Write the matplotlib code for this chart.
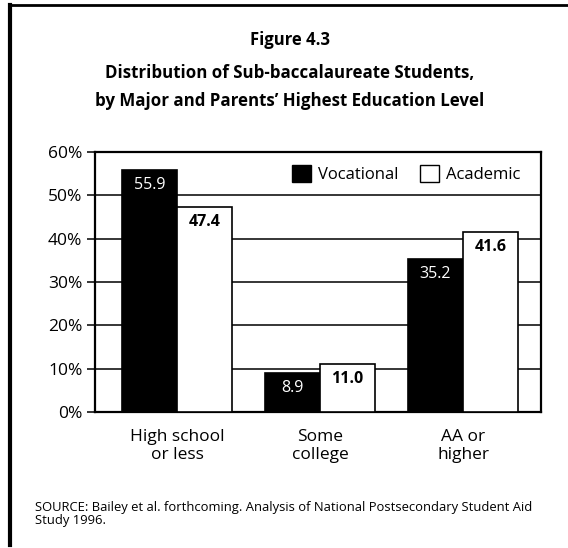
import matplotlib
matplotlib.use("Agg")
import matplotlib.pyplot as plt
import numpy as np
from matplotlib.lines import Line2D
from matplotlib.patches import Patch

categories = ["High school\nor less", "Some\ncollege", "AA or\nhigher"]
vocational = [55.9, 8.9, 35.2]
academic = [47.4, 11.0, 41.6]
yticks = [0, 10, 20, 30, 40, 50, 60]

plt.rcParams["font.family"] = ["Open Sans", "DejaVu Sans"]

W, H = 568, 548
fig = plt.figure(figsize=(W / 100, H / 100), dpi=100)

# axes box in pixels: left 95, right 541, top 152, bottom 412
ax = fig.add_axes([95 / W, 1 - 412 / H, (541 - 95) / W, (412 - 152) / H])

x = np.arange(len(categories))
bw = 0.385
ax.bar(x - bw / 2, vocational, bw, color="black", edgecolor="black", linewidth=1.2,
       label="Vocational", zorder=3)
ax.bar(x + bw / 2, academic, bw, color="white", edgecolor="black", linewidth=1.2,
       label="Academic", zorder=3)

for xi, v in zip(x, vocational):
    ax.text(xi - bw / 2, v - 1.6, f"{v:.1f}", ha="center", va="top",
            color="white", fontsize=11.5, zorder=4)
for xi, v in zip(x, academic):
    ax.text(xi + bw / 2, v - 1.6, f"{v:.1f}", ha="center", va="top",
            color="black", fontsize=11.5, fontweight="bold", zorder=4)

ax.set_xlim(-0.573, 2.545)
ax.set_ylim(0, 60)
ax.set_yticks(yticks)
ax.set_yticklabels([f"{t}%" for t in yticks], fontsize=12.5)
ax.yaxis.grid(True, color="black", linewidth=1.1, zorder=0)
ax.tick_params(axis="y", length=6, width=1.1, pad=3)
ax.set_xticks(x)
ax.set_xticklabels(categories, fontsize=12.5, linespacing=1.2)
ax.tick_params(axis="x", length=0, pad=12)
for s in ax.spines.values():
    s.set_linewidth(1.6)

handles = [Patch(facecolor="black", edgecolor="black", label="Vocational"),
           Patch(facecolor="white", edgecolor="black", label="Academic")]
leg = ax.legend(handles=handles, loc="upper right", bbox_to_anchor=(0.98, 0.995),
                ncol=2, frameon=True, fontsize=12, handlelength=1.15, handleheight=1.15,
                columnspacing=1.3, handletextpad=0.4, borderaxespad=0.3)
leg.get_frame().set_edgecolor("white")
leg.get_frame().set_facecolor("white")
leg.get_frame().set_alpha(1)
leg.set_zorder(5)

fig.text(290 / W, 1 - 40 / H, "Figure 4.3", ha="center", va="center",
         fontsize=12, fontweight="bold")
fig.text(290 / W, 1 - 73 / H, "Distribution of Sub-baccalaureate Students,",
         ha="center", va="center", fontsize=12.2, fontweight="bold")
fig.text(290 / W, 1 - 101 / H, "by Major and Parents\u2019 Highest Education Level",
         ha="center", va="center", fontsize=12.2, fontweight="bold")

fig.text(35 / W, 1 - 514 / H,
         "SOURCE: Bailey et al. forthcoming. Analysis of National Postsecondary Student Aid\nStudy 1996.",
         ha="left", va="center", fontsize=9.4, linespacing=1.0)

# outer frame: top and left rules
fig.add_artist(Line2D([10 / W, 1], [1 - 5 / H, 1 - 5 / H], color="black", linewidth=2))
fig.add_artist(Line2D([10 / W, 10 / W], [1 - 5 / H, 1 - 545 / H], color="black", linewidth=3))

fig.savefig("out.png", dpi=100)
